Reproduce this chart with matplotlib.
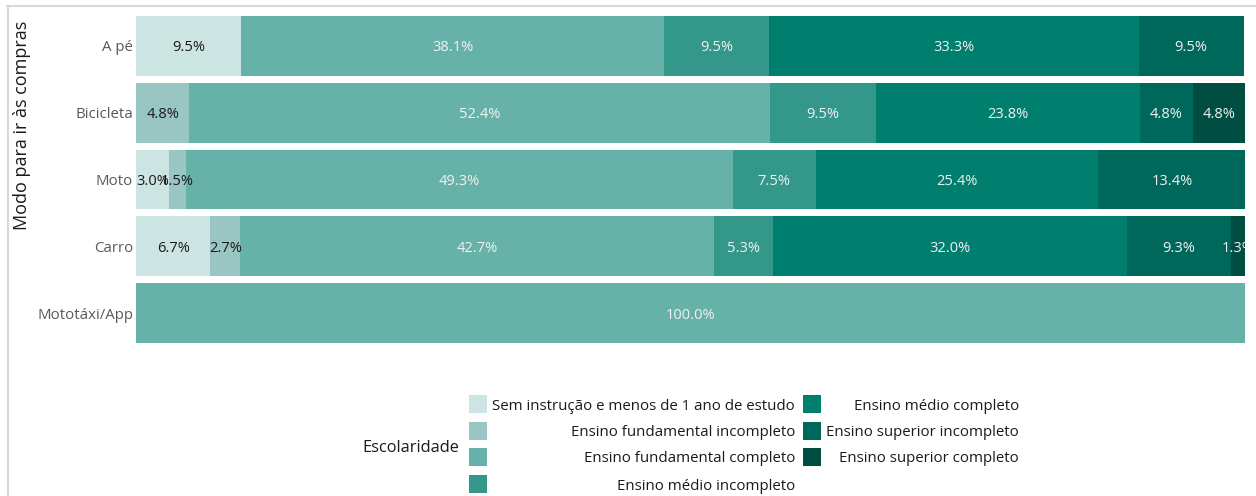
import numpy as np
import matplotlib.pyplot as plt
from matplotlib.patches import Rectangle
from matplotlib.lines import Line2D

plt.rcParams['font.family'] = ['Open Sans', 'DejaVu Sans']

modos = ['A pé', 'Bicicleta', 'Moto', 'Carro', 'Mototáxi/App']
niveis = ['Sem instrução e menos de 1 ano de estudo',
          'Ensino fundamental incompleto',
          'Ensino fundamental completo',
          'Ensino médio incompleto',
          'Ensino médio completo',
          'Ensino superior incompleto',
          'Ensino superior completo']

# percent of each mode by schooling level (rows follow niveis)
sem_instrucao = [9.5, 0.0, 3.0, 6.7, 0.0]
fund_incompleto = [0.0, 4.8, 1.5, 2.7, 0.0]
fund_completo = [38.1, 52.4, 49.3, 42.7, 100.0]
medio_incompleto = [9.5, 9.5, 7.5, 5.3, 0.0]
medio_completo = [33.3, 23.8, 25.4, 32.0, 0.0]
sup_incompleto = [9.5, 4.8, 13.4, 9.3, 0.0]
sup_completo = [0.0, 4.8, 0.0, 1.3, 0.0]

series = [sem_instrucao, fund_incompleto, fund_completo, medio_incompleto,
          medio_completo, sup_incompleto, sup_completo]
cores = ['#cce5e2', '#99c5c3', '#66b2a8', '#33978a', '#007e6e', '#00685a', '#004d42']
cor_texto = ['#1a1a1a', '#1a1a1a', '#f2f2f2', '#f2f2f2', '#f2f2f2', '#f2f2f2', '#f2f2f2']

W, H = 1256, 496
fig = plt.figure(figsize=(W / 100, H / 100), dpi=100)


def px(x, y):
    return x / W, 1 - y / H


ax = fig.add_axes([136 / W, 1 - 346.5 / H, (1245 - 136) / W, (346.5 - 12.5) / H])

y = np.arange(len(modos))
left = np.zeros(len(modos))
for vals, cor, tc in zip(series, cores, cor_texto):
    vals = np.array(vals)
    ax.barh(y, vals, left=left, height=0.895, color=cor, edgecolor='none')
    for yi, (l, v) in enumerate(zip(left, vals)):
        if v > 0:
            ax.text(l + v / 2, yi, f'{v:.1f}%', ha='center', va='center_baseline',
                    color=tc, fontsize=10.5, clip_on=True)
    left += vals

ax.set_xlim(0, 100)
ax.set_ylim(len(modos) - 0.5, -0.5)
ax.set_yticks(y)
ax.set_yticklabels(modos, fontsize=10.8, color='#595959', va='center_baseline')
ax.tick_params(axis='y', length=0, pad=2)
ax.set_xticks([])
for s in ax.spines.values():
    s.set_visible(False)

fig.text(*px(22, 125), 'Modo para ir às compras', rotation=90, ha='center',
         va='center', fontsize=13, color='#1a1a1a')

# panel frame along top and left
fig.add_artist(Line2D([7 / W, 1], [1 - 6 / H, 1 - 6 / H], color='#d9d9d9', lw=1.5))
fig.add_artist(Line2D([8 / W, 8 / W], [0, 1 - 6 / H], color='#d9d9d9', lw=1.5))

# legend
fig.text(*px(411, 446), 'Escolaridade', ha='center', va='center_baseline',
         fontsize=11.8, color='#1a1a1a')
linhas = [404, 431, 457, 484]
colunas = [(469, 795), (803, 1019)]
for i, (nome, cor) in enumerate(zip(niveis, cores)):
    c = 0 if i < 4 else 1
    r = i if i < 4 else i - 4
    sx, tx = colunas[c]
    yy = linhas[r]
    x0, y0 = px(sx, yy + 9)
    fig.add_artist(Rectangle((x0, y0), 18 / W, 18 / H, transform=fig.transFigure,
                             facecolor=cor, edgecolor='none'))
    fig.text(*px(tx, yy), nome, ha='right', va='center_baseline', fontsize=10.8,
             color='#1a1a1a')

plt.savefig('out.png', dpi=100)
